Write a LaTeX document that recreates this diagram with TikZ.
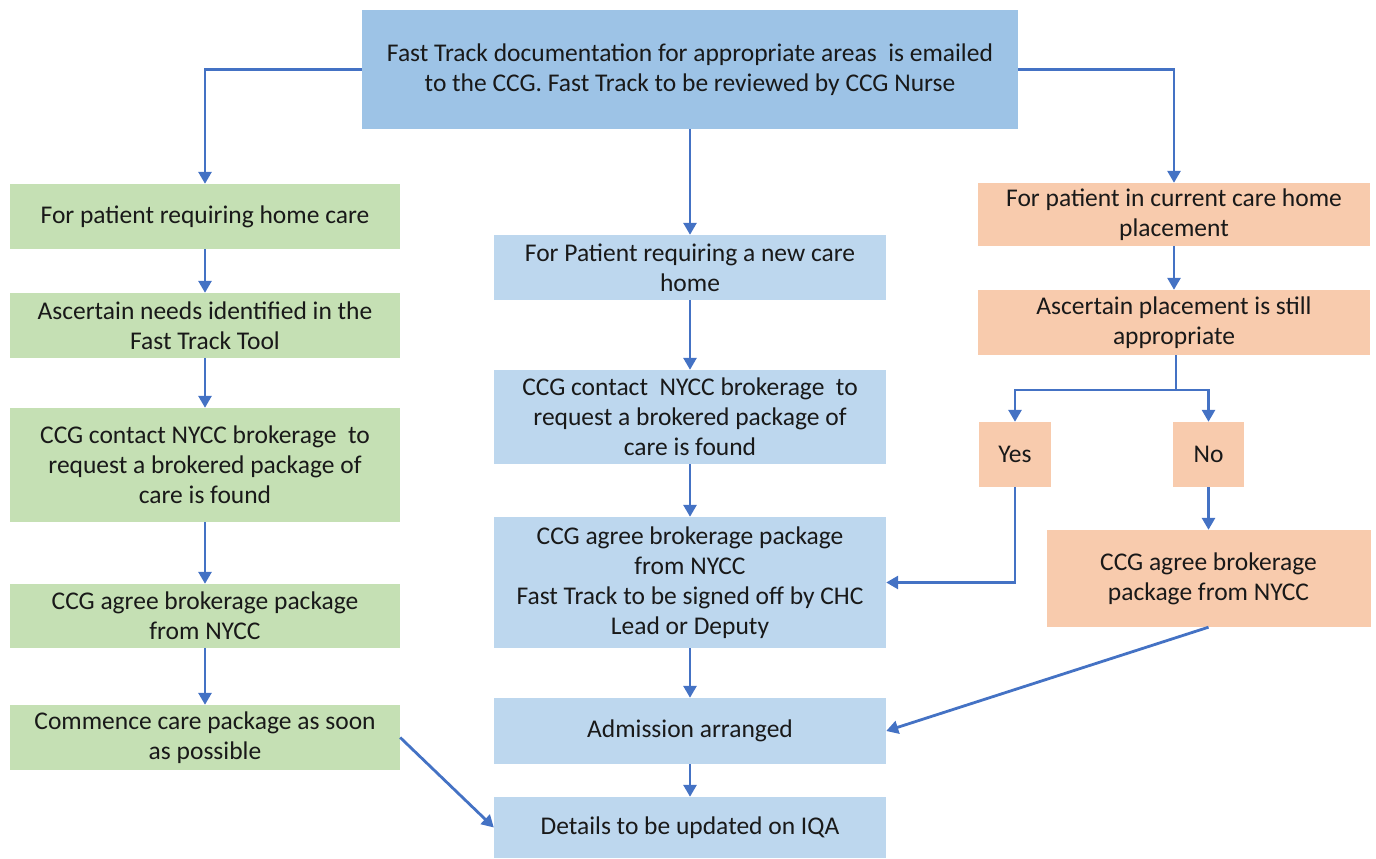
\documentclass[tikz,border=0pt]{standalone}
\usepackage{fontspec}
\setmainfont{Carlito}
\usetikzlibrary{arrows.meta}
\definecolor{topblue}{HTML}{9DC3E6}
\definecolor{midblue}{HTML}{BDD7EE}
\definecolor{lgreen}{HTML}{C5E0B4}
\definecolor{lorange}{HTML}{F8CBAD}
\definecolor{arrblue}{HTML}{4472C4}
\tikzset{
  box/.style={inner sep=2pt, align=center, font=\fontsize{25.5}{30}\selectfont, text=black!90},
  tbox/.style={box, fill=topblue},
  mbox/.style={box, fill=midblue},
  gbox/.style={box, fill=lgreen},
  obox/.style={box, fill=lorange},
  arr/.style={draw=arrblue, line width=2.8pt, -{Triangle[width=13pt,length=12pt]}}
}
\begin{document}
\begin{tikzpicture}[x=1pt,y=1pt]
\useasboundingbox (0,0) rectangle (1376,-859);
% top
\node[tbox, minimum width=656pt, minimum height=119pt] (top) at (690,-69.5) {Fast Track documentation for appropriate areas~ is emailed\\to the CCG. Fast Track to be reviewed by CCG Nurse};
% left (green)
\node[gbox, minimum width=390pt, minimum height=65pt] (g1) at (205,-216.5) {For patient requiring home care};
\node[gbox, minimum width=390pt, minimum height=65pt] (g2) at (205,-325.5) {Ascertain needs identified in the\\Fast Track Tool};
\node[gbox, minimum width=390pt, minimum height=114pt] (g3) at (205,-465) {CCG contact NYCC brokerage~ to\\request a brokered package of\\care is found};
\node[gbox, minimum width=390pt, minimum height=64pt] (g4) at (205,-616) {CCG agree brokerage package\\from NYCC};
\node[gbox, minimum width=390pt, minimum height=65pt] (g5) at (205,-737.5) {Commence care package as soon\\as possible};
% middle (blue)
\node[mbox, minimum width=392pt, minimum height=65pt] (m1) at (690,-267.5) {For Patient requiring a new care\\home};
\node[mbox, minimum width=392pt, minimum height=94pt] (m2) at (690,-417) {CCG contact~ NYCC brokerage~ to\\request a brokered package of\\care is found};
\node[mbox, minimum width=392pt, minimum height=131pt] (m3) at (690,-582.5) {CCG agree brokerage package\\from NYCC\\Fast Track to be signed off by CHC\\Lead or Deputy};
\node[mbox, minimum width=392pt, minimum height=66pt] (m4) at (690,-731) {Admission arranged};
\node[mbox, minimum width=392pt, minimum height=61pt] (m5) at (690,-827.5) {Details to be updated on IQA};
% right (orange)
\node[obox, minimum width=392pt, minimum height=63pt] (o1) at (1174,-214.5) {For patient in current care home\\placement};
\node[obox, minimum width=392pt, minimum height=65pt] (o2) at (1174,-322.5) {Ascertain placement is still\\appropriate};
\node[obox, minimum width=72pt, minimum height=65pt] (yes) at (1015,-454.5) {Yes};
\node[obox, minimum width=71pt, minimum height=65pt] (no) at (1208.5,-454.5) {No};
\node[obox, minimum width=324pt, minimum height=97pt] (o3) at (1208.5,-578.5) {CCG agree brokerage\\package from NYCC};
\coordinate (split) at (1176,-390);
% connectors
\draw[arr] (top.west) -| (g1.north);
\draw[arr] (top.east) -| (o1.north);
\draw[arr] (top.south) -- (m1.north);
\draw[arr] (g1) -- (g2);
\draw[arr] (g2) -- (g3);
\draw[arr] (g3) -- (g4);
\draw[arr] (g4) -- (g5);
\draw[arr] (m1) -- (m2);
\draw[arr] (m2) -- (m3);
\draw[arr] (m3) -- (m4);
\draw[arr] (m4) -- (m5);
\draw[arr] (o1) -- (o2);
\draw[draw=arrblue, line width=2.8pt] (o2.south -| split) -- (split);
\draw[arr] (split) -| (yes.north);
\draw[arr] (split) -| (no.north);
\draw[arr] (yes.south) |- (m3.east);
\draw[arr] (no) -- (o3);
\draw[arr] (o3.south) -- (m4.east);
\draw[arr] (g5.east) -- (m5.west);
\end{tikzpicture}
\end{document}
